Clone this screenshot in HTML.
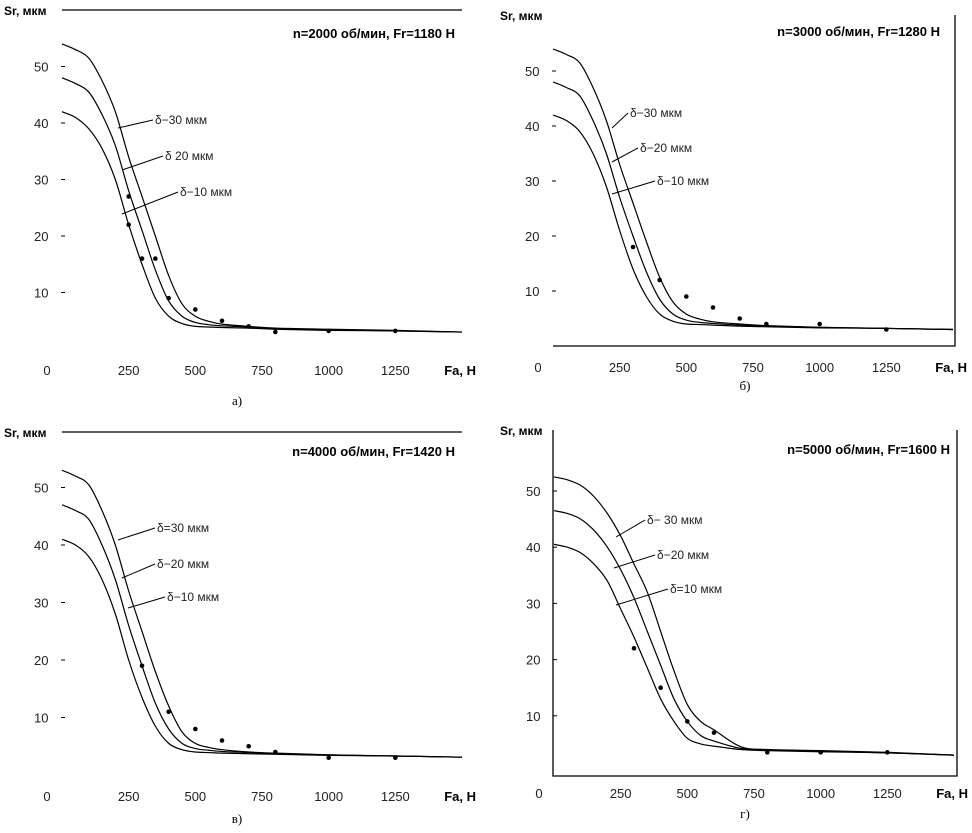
<!DOCTYPE html>
<html><head><meta charset="utf-8">
<style>
body{margin:0;background:#fff;}
svg{display:block;font-family:"Liberation Sans",sans-serif;}
</style></head>
<body>
<svg id="chart" width="972" height="833" viewBox="0 0 972 833"></svg>
<script>
const fa = [0,50,100,150,200,250,300,350,400,450,500,550,600,700,800,1000,1250,1500];
const xTicks = [0,250,500,750,1000,1250];
const yTicks = [10,20,30,40,50];
// panel a
const a30 = [54,53,51.5,47.5,42,34,27,20,13,8,5.8,4.9,4.4,4,3.7,3.5,3.3,3.0];
const a20 = [48,47,45.5,41.5,36,28,21,14,8.5,5.8,4.7,4.3,4.1,3.9,3.6,3.4,3.2,3.0];
const a10 = [42,41,39,35.5,30,22,15,9,5.8,4.5,4,3.9,3.8,3.7,3.5,3.3,3.2,3.0];
const aPtsX = [250,250,300,350,400,500,600,700,800,1000,1250];
const aPtsY = [22,27,16,16,9,7,5,4,3,3.2,3.2];
// panel b
const b30 = [54,53,51.5,47,41,33,26,19,12.5,8,5.8,4.9,4.4,4,3.7,3.4,3.2,3.0];
const b20 = [48,47,45.5,41,35,27,20,13.5,8.5,5.8,4.7,4.3,4.1,3.8,3.6,3.4,3.2,3.0];
const b10 = [42,41,39,35,29,21,14,9,5.8,4.5,4,3.9,3.8,3.6,3.5,3.3,3.2,3.0];
const bPtsX = [300,400,500,600,700,800,1000,1250];
const bPtsY = [18,12,9,7,5,4,4,3];
// panel c
const c30 = [53,52,50.5,46,40,32,25,18,12,7.5,5.5,4.8,4.4,4,3.8,3.5,3.3,3.1];
const c20 = [47,46,44.5,40,34,26,19,12.5,8,5.5,4.6,4.3,4.1,3.9,3.7,3.5,3.3,3.1];
const c10 = [41,40,38,34,28,20,13.5,8.5,5.5,4.4,4,3.9,3.8,3.7,3.6,3.4,3.3,3.1];
const cPtsX = [300,400,500,600,700,800,1000,1250];
const cPtsY = [19,11,8,6,5,4,3,3];
// panel d
const d30 = [52.5,52,51,49,46,42,37,32,25,18,12,9,7.5,4.5,4,3.8,3.5,3.0];
const d20 = [46.5,46,45,43,40,36,31,25,19,13,9,6.5,5.5,4.2,3.9,3.7,3.4,3.0];
const d10 = [40.5,40,39,37,34,29,24,18.5,13,9,6,5,4.6,4,3.8,3.6,3.4,3.0];
const dPtsX = [300,400,500,600,800,1000,1250];
const dPtsY = [22,15,9,7,3.5,3.5,3.5];

const svg = document.getElementById('chart');
const NS = 'http://www.w3.org/2000/svg';
function mk(tag, attrs, parent){const e=document.createElementNS(NS,tag);for(const k in attrs)e.setAttribute(k,attrs[k]);(parent||svg).appendChild(e);return e;}
function path(xs, ys, sx, sy){
  const p = xs.map((x,i)=>[sx(x),sy(ys[i])]);
  let d='M'+p[0][0]+','+p[0][1];
  for(let i=0;i<p.length-1;i++){
    const p0=p[i-1]||p[i],p1=p[i],p2=p[i+1],p3=p[i+2]||p2;
    const c1x=p1[0]+(p2[0]-p0[0])/6,c1y=p1[1]+(p2[1]-p0[1])/6;
    const c2x=p2[0]-(p3[0]-p1[0])/6,c2y=p2[1]-(p3[1]-p1[1])/6;
    d+=` C${c1x},${c1y} ${c2x},${c2y} ${p2[0]},${p2[1]}`;
  }
  return d;
}
const panels = [
 {id:'a',x0:62,y0:349,ky:5.65,top:10,s:[a30,a20,a10],px:aPtsX,py:aPtsY,title:'n=2000 об/мин, Fr=1180 Н',tx:455,ty:38,cap:'а)',capx:237,capy:405,
  labels:[['δ−30 мкм',155,124,118,128],['δ   20 мкм',165,160,122,170],['δ−10 мкм',180,196,122,214]],frame:'topline'},
 {id:'b',x0:553,y0:346,ky:5.5,top:15,s:[b30,b20,b10],px:bPtsX,py:bPtsY,title:'n=3000 об/мин, Fr=1280 Н',tx:940,ty:36,cap:'б)',capx:745,capy:390,
  labels:[['δ−30 мкм',630,117,612,128],['δ−20 мкм',640,152,612,162],['δ−10 мкм',657,185,612,194]],frame:'rb'},
 {id:'c',x0:62,y0:775,ky:5.75,top:432,s:[c30,c20,c10],px:cPtsX,py:cPtsY,title:'n=4000 об/мин, Fr=1420 Н',tx:455,ty:456,cap:'в)',capx:237,capy:823,
  labels:[['δ=30 мкм',157,532,118,540],['δ−20 мкм',157,568,122,578],['δ−10 мкм',167,601,128,608]],frame:'topline'},
 {id:'d',x0:554,y0:772,ky:5.62,top:430,s:[d30,d20,d10],px:dPtsX,py:dPtsY,title:'n=5000 об/мин, Fr=1600 Н',tx:950,ty:454,cap:'г)',capx:745,capy:818,
  labels:[['δ− 30 мкм',647,524,616,537],['δ−20 мкм',657,559,614,568],['δ=10 мкм',670,593,616,605]],frame:'box'}
];
panels.forEach(P=>{
  const g = mk('g',{});
  
  
  const sx = v=>P.x0+v*400/1500;
  const sy = v=>P.y0-v*P.ky;
  const right = sx(1500);
  if(P.frame==='topline'){
    const l=mk('line',{x1:P.x0,y1:P.top,x2:right,y2:P.top,stroke:'#000','stroke-width':1.3},g);
    
  } else if(P.frame==='rb'){
    const l=mk('path',{d:`M${right+2},${P.top} V${P.y0} H${P.x0}`,fill:'none',stroke:'#000','stroke-width':1.3},g);
    
  } else {
    const l=mk('path',{d:`M${P.x0-1},${P.top} V${P.y0+4} H${right+3} V${P.top}`,fill:'none',stroke:'#000','stroke-width':1.3},g);
    
  }
  const yl=mk('text',{x:4,y:P.top+5,'font-size':12,'font-weight':'bold'},g);
  yl.textContent='Sr, мкм';
  if(P.id==='b'||P.id==='d') yl.setAttribute('x',P.x0-55+ (P.id==='d'?1:2));
  
  yTicks.forEach(t=>{
    const tx=mk('text',{x:P.x0-28,y:sy(t)+5,'font-size':13,fill:'#222'},g);
    tx.textContent=t;
    
    const tl=mk('line',{x1:P.x0-1,y1:sy(t),x2:P.x0+3,y2:sy(t),stroke:'#000'},g);
    
  });
  xTicks.forEach(t=>{
    const tx=mk('text',{x:sx(t),y:P.y0+26,'font-size':13,'text-anchor':'middle',fill:'#222'},g);
    tx.textContent=t;
    if(t===0) tx.setAttribute('x',P.x0-15);
    
  });
  const xt=mk('text',{x:right+14,y:P.y0+26,'font-size':13,'font-weight':'bold','text-anchor':'end'},g);
  xt.textContent='Fa, Н';
  
  const ti=mk('text',{x:P.tx,y:P.ty,'font-size':13,'font-weight':'bold','text-anchor':'end'},g);
  ti.textContent=P.title;
  
  const cp=mk('text',{x:P.capx,y:P.capy,'font-size':13,'font-family':'Liberation Serif, serif','text-anchor':'middle'},g);
  cp.textContent=P.cap;
  
  const names=['curve-delta-30','curve-delta-20','curve-delta-10'];
  P.s.forEach((ser,i)=>{
    const c=mk('path',{d:path(fa,ser,sx,sy),fill:'none',stroke:'#000','stroke-width':1.2},g);
    
  });
  P.px.forEach((x,i)=>{
    const c=mk('circle',{cx:sx(x),cy:sy(P.py[i]),r:2.3,fill:'#000'},g);
    
  });
  P.labels.forEach(L=>{
    const ln=mk('line',{x1:L[3],y1:L[4],x2:L[1]-2,y2:L[2]-4,stroke:'#000','stroke-width':1},g);
    
    const t=mk('text',{x:L[1],y:L[2],'font-size':12,fill:'#222'},g);
    t.textContent=L[0];
    
  });
});
</script>
</body></html>
